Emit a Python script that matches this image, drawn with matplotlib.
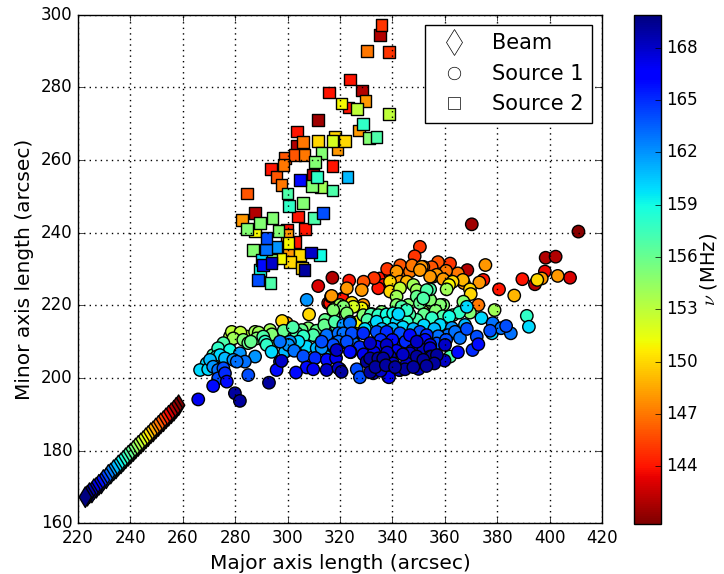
import numpy as np
import matplotlib.pyplot as plt
from matplotlib.colors import Normalize
from matplotlib.lines import Line2D

# Fitted Gaussian axes (arcsec) per frequency channel (MHz)

beam_major = [222.8, 223.6, 224.4, 225.3, 226.1, 227.0, 228.0, 228.9, 229.7, 230.8,
              231.6, 232.5, 233.6, 234.5, 235.4, 236.4, 237.3, 238.2, 239.2, 240.1,
              241.1, 242.0, 243.0, 244.0, 244.9, 245.9, 246.8, 247.8, 248.7, 249.7,
              250.7, 251.6, 252.6, 253.6, 254.6, 255.6, 256.6, 257.5, 258.4]
beam_minor = [167.2, 167.6, 168.3, 168.5, 169.4, 169.8, 170.6, 171.0, 171.9, 172.4,
              173.3, 173.7, 174.6, 175.1, 175.9, 176.5, 177.2, 177.9, 178.6, 179.2,
              179.9, 180.6, 181.3, 182.0, 182.6, 183.4, 184.0, 184.8, 185.3, 186.1,
              186.8, 187.5, 188.1, 188.9, 189.6, 190.3, 191.0, 191.8, 192.5]
beam_freq = [169.9, 169.3, 168.6, 168.0, 167.2, 166.5, 165.7, 165.0, 164.2, 163.4,
             162.6, 161.8, 161.0, 160.2, 159.4, 158.6, 157.8, 157.0, 156.1, 155.3,
             154.5, 153.6, 152.8, 152.0, 151.1, 150.3, 149.5, 148.6, 147.8, 147.0,
             146.1, 145.3, 144.5, 143.7, 142.9, 142.0, 141.4, 141.0, 140.8]

src1_major = [370.3, 411.0, 398.5, 402.3, 368.6, 375.5, 398.2, 389.6, 394.4, 395.3,
              397.0, 403.1, 407.8, 380.7, 386.5, 367.3, 373.2, 374.7, 369.6, 369.9,
              355.6, 356.9, 359.4, 354.4, 350.5, 351.2, 354.4, 360.7, 372.8, 368.4,
              369.6, 367.1, 379.0, 391.3, 392.1, 378.3, 377.3, 381.5, 383.4, 385.2,
              378.0, 368.4, 372.2, 372.8, 370.6, 362.0, 361.7, 363.1, 359.4, 353.1,
              355.0, 358.2, 361.3, 363.9, 360.1, 356.9, 355.0, 351.2, 351.8, 354.4,
              317.1, 323.5, 322.6, 328.3, 316.6, 321.0, 315.5, 335.3, 339.1, 341.6,
              344.2, 346.7, 350.5, 351.8, 339.1, 336.5, 334.6, 342.9, 345.5, 339.1,
              342.9, 348.0, 349.3, 353.1, 328.3, 325.1, 321.3, 318.1, 317.5, 314.3,
              331.8, 335.9, 337.8, 341.6, 343.5, 346.1, 349.3, 341.6, 351.8, 323.8,
              321.3, 326.4, 334.0, 337.8, 341.6, 345.5, 349.3, 314.9, 319.4, 324.5,
              328.9, 334.0, 337.8, 342.9, 346.7, 350.5, 353.1, 317.4, 325.1, 331.5,
              337.8, 342.9, 349.3, 314.9, 320.0, 320.6, 324.1, 326.4, 327.6, 330.2,
              331.5, 332.7, 334.6, 336.5, 339.1, 340.3, 342.9, 344.8, 346.7, 349.3,
              351.8, 354.4, 357.0, 331.5, 332.7, 338.4, 317.4, 320.0, 325.1, 334.0,
              343.5, 349.9, 354.4, 307.3, 308.2, 299.7, 297.9, 316.2, 316.8, 321.0,
              324.5, 328.9, 317.4, 320.0, 322.6, 323.8, 327.0, 328.9, 332.1, 334.6,
              337.2, 340.3, 342.3, 345.5, 350.5, 354.4, 318.7, 321.3, 319.4, 322.6,
              317.4, 315.5, 318.7, 323.8, 311.1, 313.0, 313.0, 307.3, 309.8, 307.9,
              305.4, 303.5, 300.9, 304.1, 300.9, 297.1, 293.9, 299.0, 300.3, 297.1,
              297.7, 295.8, 292.9, 293.3, 296.5, 295.8, 287.6, 288.2, 284.4, 285.0,
              283.1, 290.7, 291.4, 292.0, 287.6, 283.7, 285.0, 278.0, 279.3, 278.7,
              275.5, 273.5, 274.2, 278.0, 281.8, 280.6, 279.3, 276.1, 271.6, 272.9,
              270.4, 269.1, 271.6, 273.5, 275.5, 273.5, 276.8, 276.1, 266.6, 269.7,
              271.6, 265.9, 279.9, 281.8, 307.3, 309.8, 303.2, 319.4, 338.7, 342.6,
              365.0, 366.9, 361.6, 357.4, 311.7, 356.0, 359.9, 365.0, 360.5, 365.8,
              362.7, 367.7, 358.2, 355.1, 359.3,
              333.5, 335.5, 337.5, 341.0, 345.5, 348.0, 350.0, 353.0, 347.5, 344.0,
              341.5, 338.0, 329.0, 333.0, 302.5, 306.0, 310.5, 315.0, 318.5, 327.5,
              335.5, 340.0, 345.0, 352.5, 357.5, 329.5, 332.5, 336.0, 340.0, 344.0,
              348.0, 352.0, 356.0, 330.5, 346.5, 352.0, 356.5, 365.5, 374.0, 343.0,
              347.5, 355.0, 360.5, 363.0, 338.0, 333.0, 329.0, 348.5, 362.0, 289.0,
              294.0, 298.5, 302.0, 306.0, 311.0, 314.0, 318.0, 282.0, 286.0]
src1_minor = [242.3, 240.3, 233.1, 233.4, 229.7, 231.1, 229.3, 227.2, 225.8, 227.0,
              227.4, 228.1, 227.6, 224.4, 222.7, 226.1, 226.3, 227.0, 224.4, 223.1,
              227.9, 228.4, 227.2, 227.9, 236.1, 230.6, 224.4, 224.4, 220.1, 219.6,
              218.0, 221.0, 218.7, 217.1, 214.1, 215.1, 213.0, 213.7, 214.3, 212.3,
              212.3, 213.5, 211.4, 209.3, 207.7, 205.9, 216.9, 217.3, 220.1, 220.6,
              220.7, 220.1, 211.8, 212.7, 209.1, 209.5, 205.9, 205.0, 207.7, 208.2,
              227.6, 226.8, 224.7, 224.2, 222.4, 221.9, 220.6, 227.4, 228.8, 229.3,
              227.9, 229.3, 229.7, 230.6, 226.5, 225.6, 224.7, 226.5, 226.5, 223.8,
              224.7, 225.6, 224.2, 224.2, 219.2, 219.6, 219.6, 219.2, 217.3, 216.0,
              217.5, 218.2, 217.5, 220.1, 219.6, 220.1, 222.4, 222.4, 221.9, 215.5,
              214.6, 215.1, 215.5, 215.1, 215.5, 215.5, 216.0, 211.8, 212.3, 212.3,
              212.3, 212.7, 212.7, 212.3, 211.8, 212.7, 211.8, 209.1, 209.6, 209.6,
              209.1, 209.1, 210.0, 202.2, 202.4, 201.7, 207.1, 202.4, 200.2, 204.5,
              205.4, 203.6, 205.4, 205.4, 205.9, 204.0, 202.2, 202.4, 206.8, 205.9,
              205.0, 205.9, 206.3, 201.6, 201.3, 200.4, 208.6, 209.6, 210.0, 208.6,
              209.1, 210.0, 209.1, 221.5, 217.5, 215.1, 215.7, 220.6, 222.6, 221.7,
              220.7, 220.1, 218.7, 220.1, 217.8, 215.1, 215.5, 217.3, 217.6, 217.3,
              217.3, 217.8, 217.6, 218.7, 220.6, 221.5, 214.1, 212.3, 210.0, 210.0,
              209.1, 208.2, 207.7, 207.2, 208.2, 208.2, 210.0, 208.6, 211.8, 213.7,
              213.2, 212.3, 211.8, 210.0, 210.0, 210.0, 207.2, 207.2, 209.1, 204.5,
              204.7, 202.2, 198.7, 213.2, 211.4, 210.0, 212.7, 210.9, 211.4, 209.6,
              210.5, 211.4, 210.0, 209.1, 205.9, 204.5, 200.8, 211.4, 210.9, 212.7,
              209.6, 208.2, 206.3, 207.7, 206.8, 204.5, 205.0, 205.4, 206.3, 205.9,
              205.0, 204.0, 203.1, 202.2, 202.7, 199.9, 199.0, 201.3, 202.2, 202.4,
              197.8, 194.1, 195.8, 193.7, 202.9, 202.4, 201.5, 202.7, 200.2, 202.2,
              228.8, 227.0, 225.6, 231.9, 225.3, 204.0, 204.8, 207.1, 210.5, 211.0,
              213.8, 214.6, 214.6, 216.5, 217.0,
              203.0, 202.0, 203.5, 203.0, 204.0, 203.0, 202.5, 203.3, 207.5, 206.5,
              207.5, 207.0, 206.5, 207.0, 207.5, 206.0, 205.5, 205.0, 205.5, 208.5,
              210.5, 210.5, 210.0, 210.5, 211.5, 213.5, 214.0, 213.5, 213.5, 214.0,
              213.5, 214.5, 213.5, 216.0, 217.5, 217.5, 218.5, 218.0, 216.5, 231.0,
              231.0, 230.5, 229.5, 226.5, 230.0, 227.5, 226.5, 233.5, 231.5, 212.5,
              212.0, 213.0, 214.0, 211.5, 213.0, 214.5, 215.5, 212.5, 210.0]
src1_freq = [141.5, 141.0, 142.0, 142.0, 142.0, 148.0, 143.5, 144.0, 142.0, 150.0,
             148.0, 148.0, 143.0, 144.0, 149.0, 148.0, 148.0, 144.0, 150.0, 150.0,
             148.0, 148.0, 148.0, 148.0, 145.0, 148.0, 157.0, 154.0, 147.0, 160.0,
             155.0, 155.0, 154.0, 158.0, 160.0, 163.0, 164.0, 163.0, 164.0, 163.0,
             160.0, 164.0, 164.0, 166.0, 165.0, 157.0, 159.0, 155.0, 155.0, 153.0,
             155.0, 155.0, 163.0, 163.0, 168.0, 164.0, 169.0, 169.0, 168.0, 168.0,
             142.0, 144.0, 148.0, 148.0, 148.0, 144.0, 144.0, 144.0, 144.0, 148.0,
             147.0, 147.0, 148.0, 147.0, 150.0, 144.0, 144.0, 148.0, 149.0, 150.0,
             153.0, 154.0, 154.0, 157.0, 151.0, 152.0, 155.0, 154.0, 155.0, 156.0,
             157.0, 155.0, 159.0, 155.0, 157.0, 155.0, 156.0, 154.0, 157.0, 163.0,
             162.0, 151.0, 160.0, 159.0, 160.0, 158.0, 157.0, 163.0, 163.0, 164.0,
             165.0, 164.0, 165.0, 164.0, 166.0, 164.0, 165.0, 164.0, 163.0, 168.0,
             168.0, 164.0, 168.0, 168.0, 168.0, 169.0, 166.0, 164.0, 164.0, 169.0,
             169.0, 168.0, 169.0, 169.0, 168.0, 168.0, 168.0, 169.0, 168.0, 169.0,
             169.0, 168.0, 169.0, 169.0, 168.0, 166.0, 162.0, 163.0, 161.0, 166.0,
             165.0, 166.0, 167.0, 162.0, 150.0, 148.0, 150.0, 144.0, 148.0, 144.0,
             150.0, 148.0, 155.0, 154.0, 155.0, 163.0, 151.0, 155.0, 156.0, 158.0,
             157.0, 159.0, 160.0, 158.0, 156.0, 155.0, 157.0, 163.0, 163.0, 164.0,
             162.0, 161.0, 168.0, 166.0, 161.0, 162.0, 164.0, 160.0, 157.0, 155.0,
             156.0, 157.0, 156.0, 160.0, 162.0, 163.0, 160.0, 161.0, 162.0, 165.0,
             168.0, 166.0, 169.0, 154.0, 153.0, 155.0, 154.0, 155.0, 153.0, 156.0,
             155.0, 157.0, 158.0, 158.0, 162.0, 163.0, 164.0, 153.0, 154.0, 153.0,
             157.0, 158.0, 160.0, 159.0, 162.0, 163.0, 162.0, 161.0, 157.0, 159.0,
             161.0, 160.0, 162.0, 163.0, 164.0, 164.0, 166.0, 165.0, 160.0, 160.0,
             166.0, 167.0, 169.0, 169.0, 166.0, 167.0, 166.0, 168.0, 167.0, 168.0,
             147.0, 149.0, 151.0, 146.0, 143.0, 169.0, 168.0, 166.0, 164.0, 163.0,
             162.0, 161.0, 160.0, 158.0, 157.0,
             169.0, 168.0, 169.0, 169.0, 168.0, 169.0, 168.0, 169.0, 167.0, 168.0,
             167.0, 168.0, 167.0, 167.0, 163.0, 164.0, 165.0, 166.0, 167.0, 165.0,
             165.0, 166.0, 165.0, 166.0, 163.0, 160.0, 159.0, 161.0, 161.0, 160.0,
             161.0, 160.0, 161.0, 157.0, 157.0, 156.0, 155.0, 158.0, 160.0, 146.0,
             147.0, 146.0, 147.0, 150.0, 145.0, 145.0, 146.0, 145.0, 145.0, 154.0,
             155.0, 156.0, 157.0, 158.0, 156.0, 156.0, 157.0, 153.0, 156.0]

src2_major = [335.9, 335.3, 330.2, 338.7, 323.8, 315.9, 328.3, 329.8, 320.6, 323.2,
              326.6, 338.7, 311.7, 328.9, 327.3, 331.1, 334.0, 303.5, 303.7, 305.8,
              311.5, 318.1, 317.2, 322.0, 319.1, 299.0, 302.8, 306.4, 313.0, 310.5,
              298.4, 317.1, 293.7, 295.8, 304.7, 309.8, 311.2, 322.8, 297.7, 309.2,
              312.7, 317.1, 284.6, 300.0, 300.5, 306.0, 303.9, 310.1, 313.6, 287.6,
              289.5, 294.2, 284.4, 282.5, 287.6, 296.5, 306.6, 292.0, 295.8, 299.7,
              300.3, 302.8, 286.9, 291.8, 300.3, 304.7, 308.9, 312.4, 290.1, 293.9,
              297.1, 300.9, 290.7, 293.9, 305.4, 306.4, 289.5, 288.8, 293.5, 299.7]
src2_minor = [297.2, 294.4, 290.0, 289.7, 282.2, 278.6, 279.1, 276.2, 275.6, 274.5,
              274.0, 272.6, 271.0, 269.9, 268.1, 266.1, 266.3, 267.8, 263.9, 265.0,
              265.2, 266.3, 265.3, 265.2, 263.0, 260.6, 261.4, 261.4, 261.9, 259.4,
              258.6, 258.4, 257.5, 255.4, 254.5, 255.9, 255.3, 255.4, 253.1, 252.8,
              252.5, 251.6, 250.8, 250.8, 247.3, 248.1, 244.4, 244.1, 245.5, 245.5,
              242.6, 244.1, 241.0, 243.5, 240.3, 240.5, 241.0, 238.5, 236.1, 239.4,
              237.1, 237.5, 235.2, 235.4, 234.8, 233.9, 234.5, 233.9, 232.5, 232.5,
              232.9, 232.0, 231.1, 231.6, 230.2, 229.7, 229.7, 227.0, 226.1, 240.7]
src2_freq = [145.0, 142.0, 147.0, 145.0, 144.0, 144.0, 142.0, 148.0, 151.0, 144.0,
             153.0, 153.0, 141.5, 158.0, 148.0, 155.0, 157.0, 144.0, 142.0, 147.0,
             150.0, 150.0, 152.0, 150.0, 148.0, 146.0, 146.0, 147.0, 155.0, 155.0,
             147.0, 144.0, 144.0, 146.0, 166.0, 142.0, 158.0, 161.0, 147.0, 155.0,
             154.0, 157.0, 146.0, 157.0, 158.0, 155.0, 144.0, 157.0, 164.0, 142.0,
             155.0, 155.0, 155.0, 148.0, 151.0, 155.0, 144.0, 164.0, 162.0, 148.0,
             151.0, 144.0, 155.0, 163.0, 148.0, 150.0, 168.0, 159.0, 160.0, 155.0,
             151.0, 150.0, 166.0, 168.0, 150.0, 169.0, 159.0, 164.0, 157.0, 144.0]

plt.style.use('classic')

fig = plt.figure(figsize=(7.24, 5.74), dpi=100, facecolor='w')
ax = fig.add_axes([0.1077, 0.0883, 0.7238, 0.8861])
cax = fig.add_axes([0.8761, 0.0871, 0.0365, 0.8873])

norm = Normalize(vmin=140.7, vmax=169.9)
cmap = 'jet_r'


def draw(major, minor, freq, marker, size):
    major, minor, freq = np.asarray(major), np.asarray(minor), np.asarray(freq)
    order = np.argsort(freq, kind='stable')
    return ax.scatter(major[order], minor[order], c=freq[order], cmap=cmap, norm=norm,
                      marker=marker, s=size, edgecolors='k', linewidths=1)


draw(beam_major, beam_minor, beam_freq, 'd', 110)
sc = draw(src1_major, src1_minor, src1_freq, 'o', 80)
draw(src2_major, src2_minor, src2_freq, 's', 70)

ax.set_xlim(220, 420)
ax.set_ylim(160, 300)
ax.set_xticks(np.arange(220, 421, 20))
ax.set_yticks(np.arange(160, 301, 20))
ax.tick_params(labelsize=12)
ax.grid(True, color='k', linestyle=':', linewidth=1)
ax.set_xlabel('Major axis length (arcsec)', fontsize=14.5)
ax.set_ylabel('Minor axis length (arcsec)', fontsize=14.5)

handles = [Line2D([], [], ls='none', marker='d', mfc='w', mec='k', ms=13),
           Line2D([], [], ls='none', marker='o', mfc='w', mec='k', ms=9),
           Line2D([], [], ls='none', marker='s', mfc='w', mec='k', ms=9)]
ax.legend(handles, ['Beam', 'Source 1', 'Source 2'], loc='upper right',
          numpoints=1, fontsize=15, fancybox=False)

cbar = fig.colorbar(sc, cax=cax, ticks=np.arange(144, 169, 3))
cbar.ax.tick_params(labelsize=12)
cbar.set_label(r'$\nu$ (MHz)', fontsize=14, labelpad=0)

fig.savefig('out.png', dpi=100, facecolor='w')
